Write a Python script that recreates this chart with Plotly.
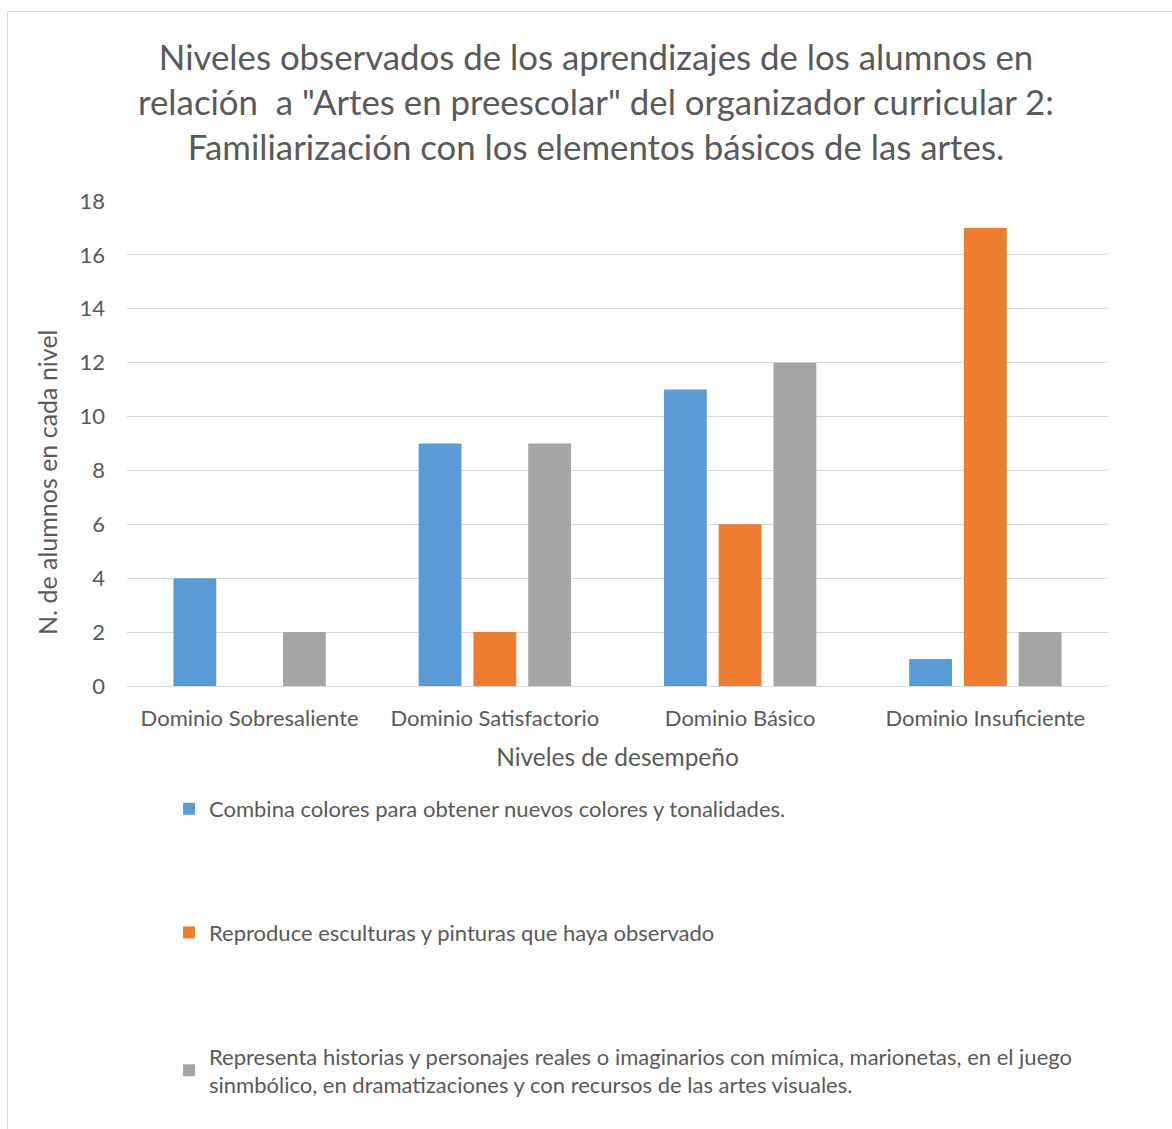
import plotly.graph_objects as go

categories = ["Dominio Sobresaliente", "Dominio Satisfactorio", "Dominio Básico", "Dominio Insuficiente"]
series_names = [
    "Combina colores para obtener nuevos colores y tonalidades.",
    "Reproduce esculturas y pinturas que haya observado",
    "Representa historias y personajes reales o imaginarios con mímica, marionetas, en el juego<br>sinmbólico, en dramatizaciones y con recursos de las artes visuales.",
]
combina = [4, 9, 11, 1]
reproduce = [0, 2, 6, 17]
representa = [2, 9, 12, 2]
colors = ["#5B9BD5", "#ED7D31", "#A5A5A5"]
y_ticks = [0, 2, 4, 6, 8, 10, 12, 14, 16, 18]

W, H = 1172, 1129
L, R, T, B = 127, 64, 201, 443
pw, ph = W - L - R, H - T - B

def px_x(x):
    return (x - L) / pw

def px_y(y):
    return (H - B - y) / ph

FONT = "Lato, Carlito, Calibri, sans-serif"
TXT = "#595959"

fig = go.Figure()
for i, vals in enumerate([combina, reproduce, representa]):
    fig.add_trace(go.Bar(
        x=categories, y=vals, name=series_names[i],
        marker=dict(color=colors[i], line=dict(width=0)),
        legendgroup=f"g{i}",
    ))

fig.update_layout(
    width=W, height=H,
    margin=dict(l=L, r=R, t=T, b=B, autoexpand=False),
    paper_bgcolor="white", plot_bgcolor="white",
    font=dict(family=FONT, color=TXT, size=22),
    barmode="group", bargap=0.33, bargroupgap=0.218,
    title=dict(
        text="Niveles observados de los aprendizajes de los alumnos en<br>relación  a \"Artes en preescolar\" del organizador curricular 2:<br>Familiarización con los elementos básicos de las artes.",
        x=px_x(596), xref="paper", xanchor="center",
        y=1 - 70 / H, yref="container", yanchor="middle",
        font=dict(family=FONT, size=34.8, color=TXT),
    ),
    xaxis=dict(
        showgrid=False, showline=False, zeroline=False, ticks="",
        tickfont=dict(size=22, color=TXT), ticklabelstandoff=17,
        title=dict(text="Niveles de desempeño", font=dict(size=24.5, color=TXT), standoff=18),
    ),
    yaxis=dict(
        range=[0, 18], tickvals=y_ticks, showgrid=True, gridcolor="#D9D9D9", gridwidth=1,
        zeroline=True, zerolinecolor="#D9D9D9", zerolinewidth=1, showline=False, ticks="",
        tickfont=dict(size=22, color=TXT), ticklabelstandoff=21,
    ),
    legend=dict(
        orientation="v", x=px_x(169), xanchor="left", y=px_y(788), yanchor="top",
        font=dict(size=22, color=TXT), tracegroupgap=92, bgcolor="rgba(0,0,0,0)",
        itemclick=False,
    ),
    annotations=[dict(
        text="N. de alumnos en cada nivel", textangle=-90, showarrow=False,
        xref="paper", yref="paper", x=px_x(47), y=px_y(482),
        xanchor="center", yanchor="middle", font=dict(size=25, color=TXT),
    )],
    shapes=[dict(
        type="rect", xref="paper", yref="paper",
        x0=px_x(7.5), x1=px_x(1190), y0=px_y(11.5), y1=px_y(1150),
        line=dict(color="#D9D9D9", width=1), fillcolor="rgba(0,0,0,0)", layer="below",
    )],
)

fig.write_html("out.html", config={"displayModeBar": False},
               post_script="document.body.style.margin='0';")
